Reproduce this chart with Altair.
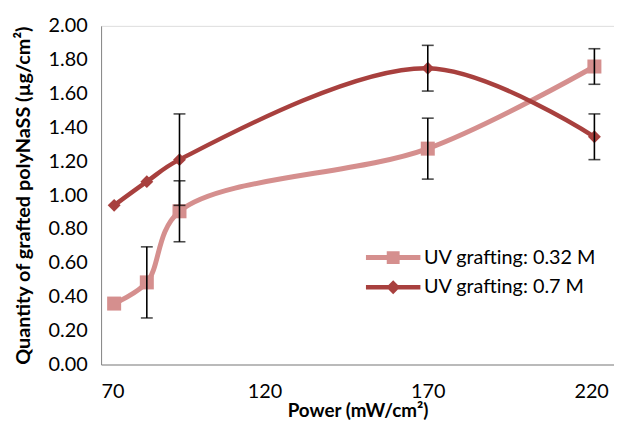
import altair as alt
import pandas as pd

series_names = ["UV grafting: 0.32 M", "UV grafting: 0.7 M"]
power = [74, 84, 94, 170, 221]
vals_032 = [0.36, 0.485, 0.905, 1.275, 1.76]
err_032 = [0.0, 0.21, 0.18, 0.18, 0.105]
vals_07 = [0.94, 1.08, 1.21, 1.75, 1.345]
err_07 = [0.0, 0.0, 0.27, 0.135, 0.135]

colors = ["#D58F8E", "#A8403E"]
x_ticks = [70, 120, 170, 220]
y_ticks = [0.0, 0.2, 0.4, 0.6, 0.8, 1.0, 1.2, 1.4, 1.6, 1.8, 2.0]

rows = []
for name, vals, errs in [(series_names[0], vals_032, err_032), (series_names[1], vals_07, err_07)]:
    for p, v, e in zip(power, vals, errs):
        rows.append({"series": name, "power": p, "value": v, "err": e,
                     "lo": v - e, "hi": v + e})
df = pd.DataFrame(rows)

FONT = "Lato"
x_scale = alt.Scale(domain=[70, 227], nice=False, zero=False)
y_scale = alt.Scale(domain=[0, 2], nice=False)
x_axis = alt.Axis(values=x_ticks, title="Power (mW/cm²)", grid=False, ticks=False,
                  labelFontSize=20, titleFontSize=19, titleFontWeight="bold",
                  labelPadding=17, titlePadding=1, domainColor="#868686",
                  labelFont=FONT, titleFont=FONT, labelColor="#000", titleColor="#000",
                  labelOverlap=False)
y_axis = alt.Axis(values=y_ticks, format=".2f", title="Quantity of grafted polyNaSS (µg/cm²)",
                  grid=False, ticks=False, labelFontSize=20, titleFontSize=20,
                  titleFontWeight="bold", labelPadding=14, titlePadding=15,
                  domainColor="#868686", labelFont=FONT, titleFont=FONT,
                  labelColor="#000", titleColor="#000", labelOverlap=False)

def X(field="power"):
    return alt.X(f"{field}:Q", scale=x_scale, axis=x_axis)

def Y(field="value"):
    return alt.Y(f"{field}:Q", scale=y_scale, axis=y_axis)

color_scale = alt.Scale(domain=series_names, range=colors)

base = alt.Chart(df)

layers = []
widths = [5, 4.5]
shapes = ["square", "diamond"]
sizes = [200, 170]
for i, name in enumerate(series_names):
    sub = base.transform_filter(alt.datum.series == name)
    line = sub.mark_line(interpolate="catmull-rom", strokeWidth=widths[i], strokeCap="round",
                         color=colors[i]).encode(x=X(), y=Y())
    pts = sub.mark_point(shape=shapes[i], filled=True, size=sizes[i], opacity=1,
                         color=colors[i]).encode(x=X(), y=Y())
    layers += [line, pts]

errs = base.transform_filter(alt.datum.err > 0)
err_rule = errs.mark_rule(color="black", strokeWidth=1.6).encode(x=X(), y=Y("lo"), y2="hi:Q")
cap_lo = errs.mark_tick(color="black", thickness=1.6, size=12, orient="horizontal").encode(x=X(), y=Y("lo"))
cap_hi = errs.mark_tick(color="black", thickness=1.6, size=12, orient="horizontal").encode(x=X(), y=Y("hi"))
layers += [err_rule, cap_lo, cap_hi]

legend_paths = [
    "M-5.5,-0.5H5.5V0.5H-5.5Z M-1.3,-1.3H1.3V1.3H-1.3Z",
    "M-5.5,-0.45H5.5V0.45H-5.5Z M0,-1.4L1.4,0L0,1.4L-1.4,0Z",
]
leg = alt.Legend(title=None, orient="none", legendX=285, legendY=224, labelFontSize=20,
                 labelFont=FONT, labelColor="#000", symbolSize=100, labelOffset=21,
                 rowPadding=10, symbolOpacity=1, symbolStrokeWidth=0, labelLimit=400)
legend_layer = base.transform_filter("false").mark_point(filled=True, opacity=1).encode(
    x=X(), y=Y(),
    color=alt.Color("series:N", scale=color_scale, legend=leg),
    shape=alt.Shape("series:N", scale=alt.Scale(domain=series_names, range=legend_paths), legend=leg),
)
layers.append(legend_layer)

chart = alt.layer(*layers).properties(
    width=518, height=342,
    autosize=alt.AutoSizeParams(type="none"),
    padding={"left": 94, "top": 16, "right": 0, "bottom": 56},
).configure_view(stroke=None).configure_axis(labelOverlap=False).configure(background="white")

chart.save("out.html", embed_options={"renderer": "svg", "actions": False})
